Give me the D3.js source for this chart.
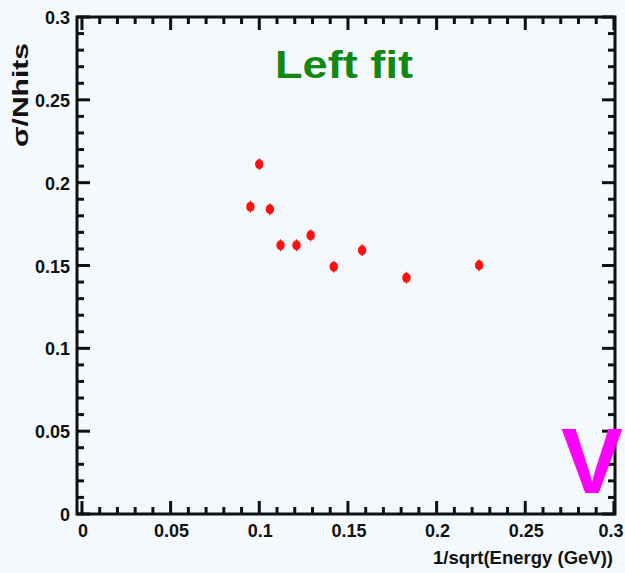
<!DOCTYPE html>
<html>
<head>
<meta charset="utf-8">
<script src="https://cdn.jsdelivr.net/npm/d3@7"></script>
<style>
  html, body { margin: 0; padding: 0; background: #f4f9fd; }
  svg { display: block; }
  text { font-family: "Liberation Sans", Arial, Helvetica, sans-serif; font-weight: bold; }
</style>
</head>
<body>
<svg id="chart" width="625" height="573"></svg>
<script>
// Resolution points: x = 1/sqrt(E), y = sigma / Nhits
const invSqrtEnergy = [0.095, 0.100, 0.106, 0.112, 0.121, 0.129, 0.142, 0.158, 0.183, 0.224];
const sigmaOverNhits = [0.1855, 0.2111, 0.1839, 0.1622, 0.1622, 0.1682, 0.1493, 0.1592, 0.1426, 0.1501];
const xTicks = [0, 0.05, 0.1, 0.15, 0.2, 0.25, 0.3];
const yTicks = [0, 0.05, 0.1, 0.15, 0.2, 0.25, 0.3];
const xTickLabels = ["0", "0.05", "0.1", "0.15", "0.2", "0.25", "0.3"];
const yTickLabels = ["0", "0.05", "0.1", "0.15", "0.2", "0.25", "0.3"];
const titleText = "Left fit";
const xTitle = "1/sqrt(Energy (GeV))";
const yTitle = "σ/Nhits";
const cornerLetter = "V";

const svg = d3.select("#chart");
const frame = { left: 77, right: 615, top: 17, bottom: 514 };

const x = d3.scaleLinear().domain([-0.0028, 0.3006]).range([frame.left, frame.right]);
const y = d3.scaleLinear().domain([0, 0.3]).range([frame.bottom, frame.top]);

const ink = "#111";
const majorLen = 13, minorLen = 7;

// Minor ticks: four between each pair of majors
function minors(ticks) {
  const out = [];
  for (let i = 0; i < ticks.length - 1; i++) {
    const step = (ticks[i + 1] - ticks[i]) / 5;
    for (let k = 1; k < 5; k++) out.push(ticks[i] + k * step);
  }
  return out;
}

const g = svg.append("g");

// Frame
g.append("rect")
  .attr("x", frame.left).attr("y", frame.top)
  .attr("width", frame.right - frame.left).attr("height", frame.bottom - frame.top)
  .attr("fill", "none").attr("stroke", ink).attr("stroke-width", 3);

// Tick marks on all four sides, pointing inward
const xMaj = xTicks, xMin = minors(xTicks);
const yMaj = yTicks, yMin = minors(yTicks);

function xTickLines(vals, len) {
  vals.forEach(v => {
    const px = x(v);
    g.append("line").attr("x1", px).attr("x2", px)
      .attr("y1", frame.bottom).attr("y2", frame.bottom - len)
      .attr("stroke", ink).attr("stroke-width", 3);
    g.append("line").attr("x1", px).attr("x2", px)
      .attr("y1", frame.top).attr("y2", frame.top + len)
      .attr("stroke", ink).attr("stroke-width", 3);
  });
}
function yTickLines(vals, len) {
  vals.forEach(v => {
    const py = y(v);
    g.append("line").attr("y1", py).attr("y2", py)
      .attr("x1", frame.left).attr("x2", frame.left + len)
      .attr("stroke", ink).attr("stroke-width", 3);
    g.append("line").attr("y1", py).attr("y2", py)
      .attr("x1", frame.right).attr("x2", frame.right - len)
      .attr("stroke", ink).attr("stroke-width", 3);
  });
}
xTickLines(xMaj, majorLen);
xTickLines(xMin, minorLen);
yTickLines(yMaj, majorLen);
yTickLines(yMin, minorLen);

// Tick labels (the last one is kept inside the page edge)
g.selectAll("text.xl").data(xTicks).enter().append("text")
  .attr("class", "xl")
  .attr("x", d => Math.min(x(d) + 1, 611)).attr("y", 537)
  .attr("text-anchor", "middle")
  .attr("font-size", 18).attr("fill", ink)
  .text((d, i) => xTickLabels[i]);

g.selectAll("text.yl").data(yTicks).enter().append("text")
  .attr("class", "yl")
  .attr("x", 70).attr("y", d => y(d) + 7)
  .attr("text-anchor", "end")
  .attr("font-size", 18).attr("fill", ink)
  .text((d, i) => yTickLabels[i]);

// Axis titles
svg.append("text")
  .attr("x", 613).attr("y", 564)
  .attr("text-anchor", "end")
  .attr("font-size", 19).attr("fill", ink)
  .attr("textLength", 180).attr("lengthAdjust", "spacingAndGlyphs")
  .text(xTitle);

svg.append("text")
  .attr("transform", "translate(28,147) rotate(-90)")
  .attr("text-anchor", "start")
  .attr("font-size", 22).attr("fill", ink)
  .attr("textLength", 104).attr("lengthAdjust", "spacingAndGlyphs")
  .text(yTitle);

// Data points with short error bars
const pts = invSqrtEnergy.map((v, i) => ({ x: v, y: sigmaOverNhits[i] }));
const red = "#ff1010";
svg.selectAll("line.err").data(pts).enter().append("line")
  .attr("class", "err")
  .attr("x1", d => x(d.x)).attr("x2", d => x(d.x))
  .attr("y1", d => y(d.y) - 6).attr("y2", d => y(d.y) + 6)
  .attr("stroke", red).attr("stroke-width", 1);
svg.selectAll("ellipse.pt").data(pts).enter().append("ellipse")
  .attr("class", "pt")
  .attr("cx", d => x(d.x)).attr("cy", d => y(d.y))
  .attr("rx", 4.2).attr("ry", 5)
  .attr("fill", red);

// Panel title
svg.append("text")
  .attr("x", 275).attr("y", 78)
  .attr("font-size", 38).attr("fill", "#118811")
  .attr("textLength", 138).attr("lengthAdjust", "spacingAndGlyphs")
  .text(titleText);

// Corner marker letter
svg.append("text")
  .attr("x", 561).attr("y", 493)
  .attr("font-size", 93).attr("fill", "#ff00ff")
  .attr("textLength", 62).attr("lengthAdjust", "spacingAndGlyphs")
  .text(cornerLetter);
</script>
</body>
</html>
